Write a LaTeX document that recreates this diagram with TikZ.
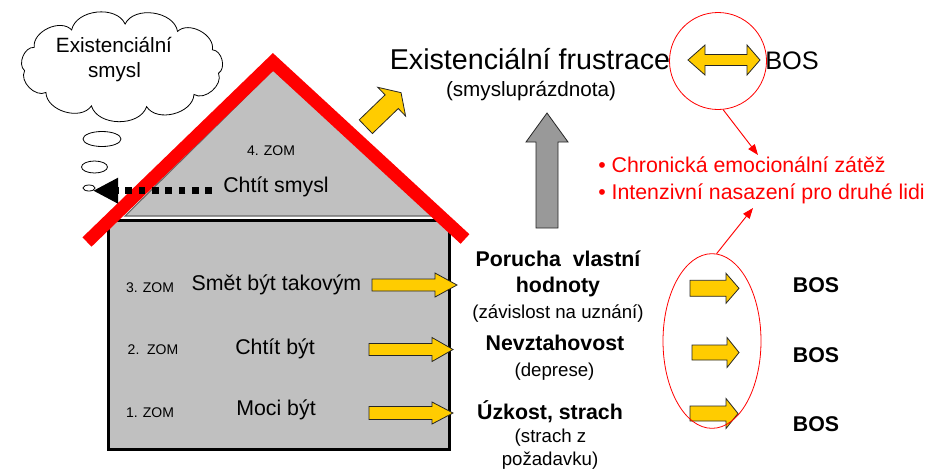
\documentclass[tikz,border=0pt]{standalone}
\usepackage{fontspec}
\setmainfont{Liberation Sans}
\usetikzlibrary{shapes.geometric,arrows.meta}
\definecolor{arrowyellow}{HTML}{FFCC00}
\definecolor{housegray}{HTML}{C0C0C0}
\definecolor{upgray}{HTML}{999999}
% tail x, tail y, angle, length, shaft half, head half, head length, fill
\newcommand\blockarr[8]{%
  \begin{scope}[shift={(#1,#2)},rotate=#3]
    \draw[blockline,fill=#8] (0,-#5) -- (#4-#7,-#5) -- (#4-#7,-#6) -- (#4,0)
      -- (#4-#7,#6) -- (#4-#7,#5) -- (0,#5) -- cycle;
  \end{scope}}
\begin{document}
\begin{tikzpicture}[x=0.75pt,y=-0.75pt,
  blockline/.style={draw=black!85,line width=0.6pt,line join=miter},
  txt/.style={inner sep=0pt,anchor=base,font=\fontsize{16}{19}\selectfont},
  boldtxt/.style={txt,font=\bfseries\fontsize{16}{19}\selectfont},
  subtxt/.style={txt,font=\fontsize{14}{17}\selectfont},
  zomtxt/.style={txt,font=\fontsize{10.5}{12}\selectfont},
  redtxt/.style={inner sep=0pt,anchor=base west,text=red,font=\fontsize{16}{19}\selectfont},
  thought/.style={ellipse,draw=black,line width=0.6pt,inner sep=0pt,fill=white},
  redline/.style={draw=red,line width=0.7pt,-{Triangle[length=8pt,width=6pt]}}]
\useasboundingbox (0,0) rectangle (930,468);

% house body
\draw[fill=housegray,line width=2.25pt] (108.5,220.5) rectangle (449.5,449.5);
% attic
\draw[fill=housegray,draw=black!60,line width=0.8pt] (273,70) -- (125,216) -- (435,216) -- cycle;
% roof
\draw[red,line width=9.75pt,line join=miter] (87,242) -- (273,62) -- (465,239);

% cloud and thought bubbles
\begin{scope}[shift={(122,66)}]
  \draw[line width=0.6pt,fill=white] (10:98 and 42)
    \foreach \k in {1,...,11} { to[bend left=72] ({10+\k*360/11}:98 and 42) } -- cycle;
\end{scope}
\node[txt,font=\fontsize{15.5}{18}\selectfont] (cl1) at (114,52.7) {Existenciální};
\node[txt,font=\fontsize{15.5}{18}\selectfont] (cl2) at (114.5,77) {smysl};
\node[thought,minimum width=28.5pt,minimum height=11.25pt] (b1) at (102,139) {};
\node[thought,minimum width=19.5pt,minimum height=9pt] (b2) at (94.5,167) {};
\node[thought,minimum width=9pt,minimum height=4.5pt] (b3) at (89,188) {};

% attic texts
\node[zomtxt] (z4) at (271,155) {4. ZOM};
\node[txt] (csmysl) at (276,192.7) {Chtít smysl};
\coordinate (dstart) at (212,190.7);
\coordinate (dend) at (93,190.7);
\draw[line width=5pt,dash pattern=on 5pt off 5pt,-{Triangle[length=18.75pt,width=18pt]}] (dstart) -- (dend);

% floors
\node[zomtxt] (z3) at (150,292.3) {3. ZOM};
\node[txt] (f3) at (276.5,290.7) {Smět být takovým};
\node[zomtxt] (z2) at (153,354) {2.\ \ ZOM};
\node[txt] (f2) at (275,354) {Chtít být};
\node[zomtxt] (z1) at (150,417) {1. ZOM};
\node[txt] (f1) at (276,415.7) {Moci být};

\blockarr{372}{285}{0}{85}{6}{12}{22}{arrowyellow}
\blockarr{369}{349.5}{0}{84}{6}{12}{21}{arrowyellow}
\blockarr{369}{413}{0}{84}{6.5}{11}{21}{arrowyellow}

% diagonal arrow from the roof
\blockarr{365.8}{126.7}{44}{49}{9.5}{20}{13}{arrowyellow}
% grey up arrow
\blockarr{547}{228}{90}{115}{11}{21}{29}{upgray}

% top texts
\node[txt,font=\fontsize{21.5}{26}\selectfont] (title) at (530,69) {Existenciální frustrace};
\node[txt,font=\fontsize{15.5}{18}\selectfont] (titlesub) at (531,96) {(smysluprázdnota)};
\node[inner sep=0pt,anchor=base west,font=\fontsize{19}{23}\selectfont] (bostop) at (765,69) {BOS};
\begin{scope}[shift={(688,60)}]
  \draw[blockline,fill=arrowyellow] (0,0) -- (17,-15) -- (17,-5.5) -- (59,-5.5) -- (59,-15)
    -- (72,0) -- (59,15) -- (59,5.5) -- (17,5.5) -- (17,15) -- cycle;
\end{scope}
\node[circle,draw=red,line width=0.6pt,minimum size=72.75pt,inner sep=0pt] (ring) at (718,61) {};

% red bullets
\node[redtxt] (r1) at (598,172.7) {• Chronická emocionální zátěž};
\node[redtxt] (r2) at (598,199.3) {• Intenzivní nasazení pro druhé lidi};

% right column
\node[boldtxt] (p1) at (558,266) {Porucha\ \ vlastní};
\node[boldtxt] (p2) at (558,292.7) {hodnoty};
\node[subtxt] (p3) at (558,318) {(závislost na uznání)};
\node[boldtxt] (n1) at (555,350.7) {Nevztahovost};
\node[subtxt] (n2) at (554.5,376.7) {(deprese)};
\node[boldtxt] (u1) at (550,419.3) {Úzkost, strach};
\node[subtxt] (u2) at (550.5,442.7) {(strach z};
\node[subtxt] (u3) at (550,465) {požadavku)};

\blockarr{690}{288.3}{0}{49}{8}{15}{13}{arrowyellow}
\blockarr{692}{352.5}{0}{47}{7.5}{15}{12}{arrowyellow}
\blockarr{690}{413.5}{0}{48}{7.5}{15}{12}{arrowyellow}

\node[boldtxt] (bos1) at (816,292.7) {BOS};
\node[boldtxt] (bos2) at (816,362.7) {BOS};
\node[boldtxt] (bos3) at (816,431.7) {BOS};

\node[ellipse,draw=red,line width=0.6pt,minimum width=73.5pt,minimum height=131pt,inner sep=0pt] (ell) at (712,341) {};

% red connectors
\coordinate (tip1) at (758,155);
\draw[redline] (ring.-84) -- (tip1);
\coordinate (tip2) at (753,208);
\draw[redline] (ell.87) -- (tip2);
\end{tikzpicture}
\end{document}
